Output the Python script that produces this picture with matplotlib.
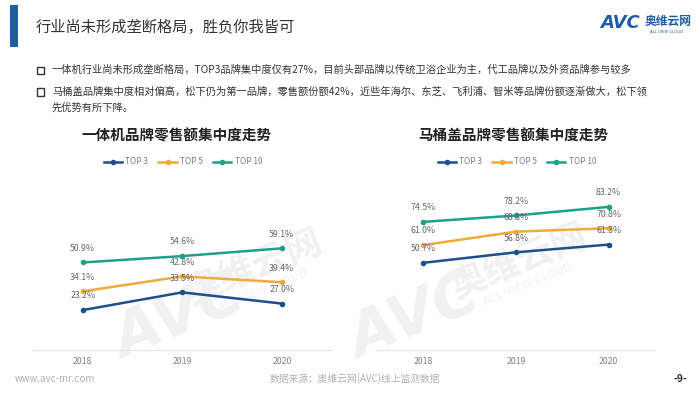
import matplotlib
matplotlib.use("Agg")
import matplotlib.pyplot as plt
from matplotlib.patches import Rectangle

plt.rcParams['font.family'] = ['Noto Sans CJK SC', 'DejaVu Sans']

years = ["2018", "2019", "2020"]
series_names = ["TOP 3", "TOP 5", "TOP 10"]
left_top3 = [23.2, 33.5, 27.0]
left_top5 = [34.1, 42.8, 39.4]
left_top10 = [50.9, 54.6, 59.1]
right_top3 = [50.7, 56.8, 61.3]
right_top5 = [61.0, 68.8, 70.8]
right_top10 = [74.5, 78.2, 83.2]
colors = ["#1f4e8c", "#f0aa3c", "#1fa187"]

title = "行业尚未形成垄断格局，胜负你我皆可"
bullets = [
    "一体机行业尚未形成垄断格局，TOP3品牌集中度仅有27%，目前头部品牌以传统卫浴企业为主，代工品牌以及外资品牌参与较多",
    "马桶盖品牌集中度相对偏高，松下仍为第一品牌，零售额份额42%，近些年海尔、东芝、飞利浦、智米等品牌份额逐渐做大，松下领",
]
bullet_cont = "先优势有所下降。"
left_title = "一体机品牌零售额集中度走势"
right_title = "马桶盖品牌零售额集中度走势"

W, H = 700, 399
fig = plt.figure(figsize=(7, 3.99), dpi=100)
fig.patch.set_facecolor("white")

def fx(px):
    return px / W

def fy(py):
    return 1 - py / H

# faint watermarks
for (ax_, ay_), (bx_, by_) in [((180, 318), (255, 268)), ((415, 318), (520, 262))]:
    fig.text(fx(ax_), fy(ay_), "AVC", fontsize=44, color="#f1f1f1", fontweight="bold",
             fontstyle="italic", rotation=22, ha="center", va="center",
             family=["DejaVu Sans"], zorder=-5)
    fig.text(fx(bx_), fy(by_), "奥维云网", fontsize=26, color="#f1f1f1", fontweight="bold",
             rotation=22, ha="center", va="center", zorder=-5)
    fig.text(fx(bx_ + 8), fy(by_ + 22), "ALL VIEW CLOUD", fontsize=8, color="#f1f1f1",
             rotation=22, ha="center", va="center", family=["DejaVu Sans"], zorder=-5)

# header bar and title
fig.patches.append(Rectangle((fx(10), fy(47)), fx(8), 42 / H, transform=fig.transFigure,
                             facecolor="#1f5ca8", edgecolor="none"))
fig.text(fx(36), fy(27), title, fontsize=11, color="#333333", va="center", ha="left")

# logo
fig.text(fx(640), fy(23), "AVC", fontsize=13, color="#1f5ca8", fontweight="bold",
         fontstyle="italic", va="center", ha="right", family=["DejaVu Sans"])
fig.text(fx(645), fy(21), "奥维云网", fontsize=8.5, color="#1f5ca8", fontweight="bold",
         va="center", ha="left")
fig.text(fx(650), fy(32), "ALL VIEW CLOUD", fontsize=2.8, color="#1f5ca8",
         va="center", ha="left", family=["DejaVu Sans"])

# bullets
ys = [70, 92]
for y, t in zip(ys, bullets):
    fig.patches.append(Rectangle((fx(37), fy(y + 3.5)), fx(7), 7 / H, transform=fig.transFigure,
                                 facecolor="none", edgecolor="#333333", linewidth=1.0))
    fig.text(fx(52), fy(y), t, fontsize=7.4, color="#333333", va="center", ha="left")
fig.text(fx(52), fy(108), bullet_cont, fontsize=7.4, color="#333333", va="center", ha="left")

# chart titles
fig.text(fx(177), fy(135), left_title, fontsize=10.5, fontweight="bold", color="#222222",
         ha="center", va="center")
fig.text(fx(513), fy(135), right_title, fontsize=10.5, fontweight="bold", color="#222222",
         ha="center", va="center")

def make_axes(x0, x1, data, legend_cx):
    ax = fig.add_axes([fx(x0), fy(350), fx(x1) - fx(x0), 172 / H])
    ax.set_xlim(-0.5, 2.5)
    ax.set_ylim(0, 100)
    ax.patch.set_alpha(0)
    xs = list(range(len(years)))
    handles = []
    for vals, c, name in zip(data, colors, series_names):
        h, = ax.plot(xs, vals, color=c, linewidth=1.8, marker="o", markersize=3, label=name)
        handles.append(h)
        for x, v in zip(xs, vals):
            ax.annotate(f"{v:.1f}%", (x, v), xytext=(0, 7), textcoords="offset points",
                        ha="center", va="bottom", fontsize=6.3, color="#666666")
    for s in ["top", "right", "left"]:
        ax.spines[s].set_visible(False)
    ax.spines["bottom"].set_color("#e3e3e3")
    ax.spines["bottom"].set_linewidth(0.8)
    ax.set_yticks([])
    ax.set_xticks(xs)
    ax.set_xticklabels(years, fontsize=6.3, color="#808080")
    ax.tick_params(axis="x", length=0, pad=5)
    ax.legend(handles=handles, loc="center", bbox_to_anchor=(fx(legend_cx), fy(162)),
              bbox_transform=fig.transFigure, ncol=3, frameon=False, fontsize=6,
              handlelength=2.2, columnspacing=1.2, handletextpad=0.4,
              labelcolor="#7f7f7f")
    return ax

make_axes(33, 331.5, [left_top3, left_top5, left_top10], 183)
make_axes(377, 655, [right_top3, right_top5, right_top10], 517)

# footer
fig.text(fx(15), fy(379), "www.avc-mr.com", fontsize=7, color="#b0b0b0", va="center", ha="left")
fig.text(fx(355), fy(379), "数据来源：奥维云网(AVC)线上监测数据", fontsize=7, color="#b0b0b0",
         va="center", ha="center")
fig.text(fx(680), fy(379), "-9-", fontsize=7.5, color="#333333", va="center", ha="center",
         fontweight="bold")

fig.savefig("out.png", dpi=100, facecolor="white")
